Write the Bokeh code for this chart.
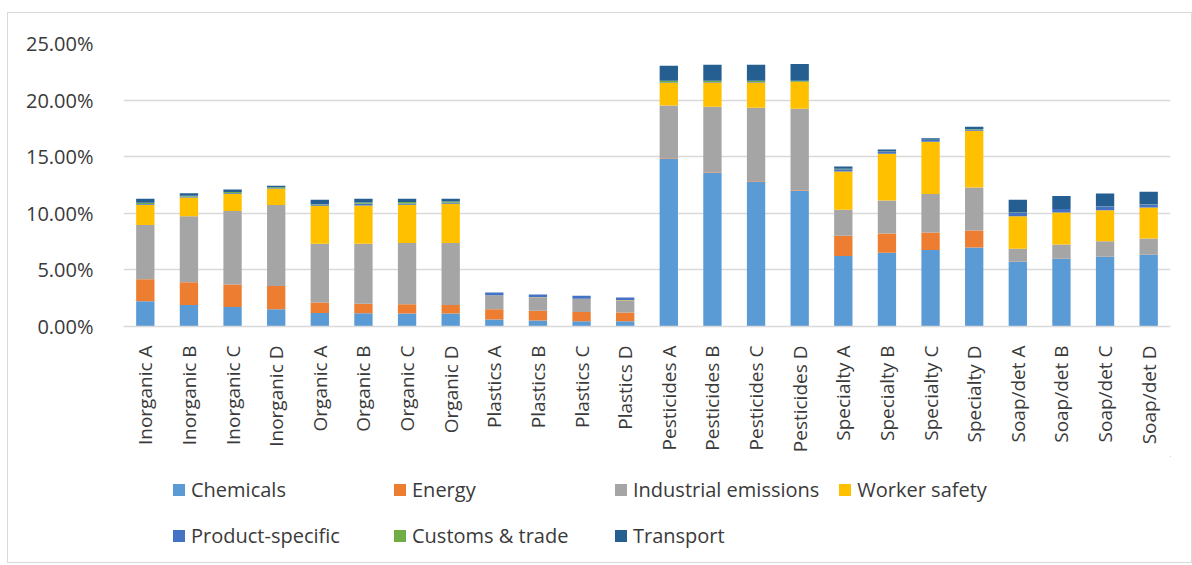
import math
from bokeh.plotting import figure
from bokeh.layouts import column
from bokeh.models import (FactorRange, Range1d, Legend, LegendItem,
                          PrintfTickFormatter, FixedTicker, ColumnDataSource)
from bokeh.embed import file_html
from bokeh.resources import INLINE

categories = ["Inorganic A", "Inorganic B", "Inorganic C", "Inorganic D",
              "Organic A", "Organic B", "Organic C", "Organic D",
              "Plastics A", "Plastics B", "Plastics C", "Plastics D",
              "Pesticides A", "Pesticides B", "Pesticides C", "Pesticides D",
              "Specialty A", "Specialty B", "Specialty C", "Specialty D",
              "Soap/det A", "Soap/det B", "Soap/det C", "Soap/det D"]

# values in percent
chemicals = [2.22, 1.90, 1.73, 1.52, 1.20, 1.17, 1.14, 1.14,
             0.61, 0.53, 0.47, 0.47, 14.84, 13.58, 12.81, 11.99,
             6.22, 6.51, 6.75, 6.98, 5.74, 6.01, 6.18, 6.36]
energy = [1.96, 2.02, 1.98, 2.05, 0.91, 0.85, 0.82, 0.76,
          0.91, 0.87, 0.82, 0.76, 0.05, 0.05, 0.05, 0.05,
          1.79, 1.71, 1.55, 1.50, 0.02, 0.02, 0.02, 0.02]
industrial = [4.79, 5.82, 6.49, 7.16, 5.20, 5.29, 5.41, 5.47,
              1.23, 1.17, 1.14, 1.08, 4.63, 5.78, 6.46, 7.19,
              2.30, 2.91, 3.40, 3.80, 1.10, 1.21, 1.34, 1.39]
worker = [1.78, 1.66, 1.52, 1.43, 3.35, 3.38, 3.38, 3.47,
          0.02, 0.02, 0.02, 0.02, 1.98, 2.15, 2.24, 2.36,
          3.38, 4.13, 4.62, 5.01, 2.89, 2.83, 2.74, 2.74]
product = [0.08, 0.08, 0.08, 0.05, 0.10, 0.15, 0.12, 0.10,
           0.24, 0.24, 0.27, 0.24, 0.05, 0.04, 0.04, 0.03,
           0.21, 0.17, 0.15, 0.10, 0.29, 0.30, 0.29, 0.30]
customs = [0.10, 0.08, 0.08, 0.10, 0.05, 0.12, 0.12, 0.10,
           0.00, 0.00, 0.00, 0.00, 0.15, 0.10, 0.10, 0.10,
           0.03, 0.03, 0.03, 0.03, 0.02, 0.02, 0.02, 0.02]
transport = [0.35, 0.22, 0.22, 0.12, 0.38, 0.32, 0.29, 0.24,
             0.00, 0.00, 0.00, 0.00, 1.33, 1.42, 1.42, 1.48,
             0.20, 0.18, 0.14, 0.22, 1.13, 1.13, 1.16, 1.07]

series_names = ["Chemicals", "Energy", "Industrial emissions", "Worker safety",
                "Product-specific", "Customs & trade", "Transport"]
colors = ["#5B9BD5", "#ED7D31", "#A5A5A5", "#FFC000",
          "#4472C4", "#70AD47", "#255E91"]
y_ticks = [0, 5, 10, 15, 20, 25]

keys = ["s%d" % i for i in range(len(series_names))]
src = ColumnDataSource(dict(cat=categories, s0=chemicals, s1=energy, s2=industrial,
                            s3=worker, s4=product, s5=customs, s6=transport))

FONT = "Open Sans"
TXT = "#3A3A3A"
W = 1183

p = figure(x_range=FactorRange(*categories, range_padding=0),
           y_range=Range1d(0, 25),
           width=W, height=443, output_backend="svg", toolbar_location=None,
           min_border_left=115, min_border_right=21, min_border_top=30,
           min_border_bottom=130)

p.vbar_stack(keys, x="cat", width=0.42, color=colors, source=src,
             line_color=None)

p.outline_line_color = None
p.xgrid.grid_line_color = None
p.ygrid.grid_line_color = "#D9D9D9"
p.ygrid.grid_line_width = 1.5

p.yaxis.ticker = FixedTicker(ticks=y_ticks)
p.yaxis.formatter = PrintfTickFormatter(format="%.2f%%")
p.yaxis.axis_line_color = None
p.yaxis.major_tick_line_color = None
p.yaxis.minor_tick_line_color = None
p.yaxis.major_label_standoff = 24
p.yaxis.major_label_text_font = FONT
p.yaxis.major_label_text_font_size = "20px"
p.yaxis.major_label_text_color = TXT

p.xaxis.axis_line_color = "#D9D9D9"
p.xaxis.axis_line_width = 1.5
p.xaxis.major_tick_line_color = None
p.xaxis.minor_tick_line_color = None
p.xaxis.major_label_orientation = math.pi / 2
p.xaxis.major_label_standoff = 13
p.xaxis.major_label_text_font = FONT
p.xaxis.major_label_text_font_size = "19px"
p.xaxis.major_label_text_color = TXT

# legend lives in its own strip below the chart
lf = figure(x_range=Range1d(0, 1), y_range=Range1d(0, 1), width=W, height=106,
            output_backend="svg", toolbar_location=None,
            min_border_left=0, min_border_right=0, min_border_top=0,
            min_border_bottom=0)
lf.axis.visible = False
lf.grid.visible = False
lf.outline_line_color = None
leg_renderers = {}
for name, c in zip(series_names, colors):
    # swatch-only renderer, its single bar sits outside the visible range
    leg_renderers[name] = lf.vbar(x=[5], top=[5], bottom=[4], width=0.5,
                                  color=c, line_color=None)
# Legend fills columns first: order items so rows read left to right
order = [0, 4, 1, 5, 2, 6, 3]
items = [LegendItem(label=series_names[i], renderers=[leg_renderers[series_names[i]]])
         for i in order]
legend = Legend(items=items, ncols=4, location=(48, 13),
                glyph_width=15, glyph_height=15, label_standoff=5,
                label_width=183, label_height=28, spacing=18, padding=4, margin=0,
                label_text_font=FONT, label_text_font_size="20px",
                label_text_color=TXT, border_line_color=None,
                background_fill_alpha=0)
lf.add_layout(legend)

layout = column(p, lf, spacing=0)
layout.styles = {"border": "1px solid #D9D9D9", "margin-left": "7px",
                 "margin-top": "12px"}

open("out.html", "w").write(file_html(layout, INLINE))
